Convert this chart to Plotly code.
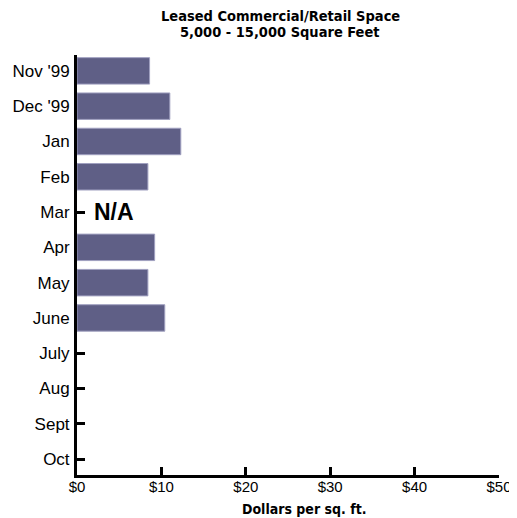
import plotly.graph_objects as go

months = ["Nov '99", "Dec '99", "Jan", "Feb", "Mar", "Apr", "May", "June",
          "July", "Aug", "Sept", "Oct"]
dollars = [8.6, 11.0, 12.3, 8.4, None, 9.2, 8.4, 10.4, None, None, None, None]
x_ticks = [0, 10, 20, 30, 40, 50]
x_tick_labels = ["$0", "$10", "$20", "$30", "$40", "$50"]
na_label = "N/A"
na_month = "Mar"
title_lines = ["Leased Commercial/Retail Space", "5,000 - 15,000 Square Feet"]
x_title = "Dollars per sq. ft."

W, H = 517, 510
L, R, T, B = 69, 26, 47, 43
PH = H - T - B
PW = W - L - R

fig = go.Figure(go.Bar(
    x=dollars, y=months, orientation="h",
    marker=dict(color="#5f5f86", line=dict(color="#a0a0c0", width=1)),
    width=0.75,
))

fig.add_annotation(x=1.8, y=na_month, text="<b>" + na_label + "</b>", showarrow=False,
                   xanchor="left", yanchor="middle",
                   font=dict(family="Liberation Sans, Arial", size=23, color="black"))

cond = "DejaVu Sans Condensed, Liberation Sans Narrow, Arial Narrow, Liberation Sans"

for line, px in zip(title_lines, [39, 23]):
    fig.add_annotation(xref="paper", yref="paper", x=(280 - 77) / PW, y=1 + px / PH,
                       text="<b>" + line + "</b>", showarrow=False,
                       xanchor="center", yanchor="middle",
                       font=dict(family=cond, size=14.5, color="black"))

fig.add_annotation(xref="paper", yref="paper", x=(303.5 - 77) / PW, y=-34 / PH,
                   text="<b>" + x_title + "</b>", showarrow=False,
                   xanchor="center", yanchor="middle",
                   font=dict(family=cond, size=14, color="black"))

fig.update_layout(
    width=W, height=H,
    margin=dict(l=L, r=R, t=T, b=B, autoexpand=False),
    paper_bgcolor="white", plot_bgcolor="white",
    showlegend=False,
    font=dict(family="Liberation Sans, Arial", size=16, color="black"),
)
fig.update_xaxes(
    range=[0, 50], tickvals=x_ticks, ticktext=x_tick_labels,
    automargin=False, ticklabeloverflow="allow",
    showgrid=False, zeroline=False,
    showline=True, linecolor="black", linewidth=3,
    ticks="inside", ticklen=8, tickwidth=3, tickcolor="black",
    layer="below traces",
    tickfont=dict(size=15), ticklabelstandoff=-4,
)
fig.update_yaxes(
    categoryorder="array", categoryarray=months,
    range=[11.45, -0.45],
    automargin=False,
    showgrid=False, zeroline=False,
    showline=True, linecolor="black", linewidth=3,
    ticks="inside", ticklen=8, tickwidth=3, tickcolor="black",
    layer="below traces",
    tickfont=dict(size=17), ticklabelstandoff=1,
)

fig.write_html("out.html")
